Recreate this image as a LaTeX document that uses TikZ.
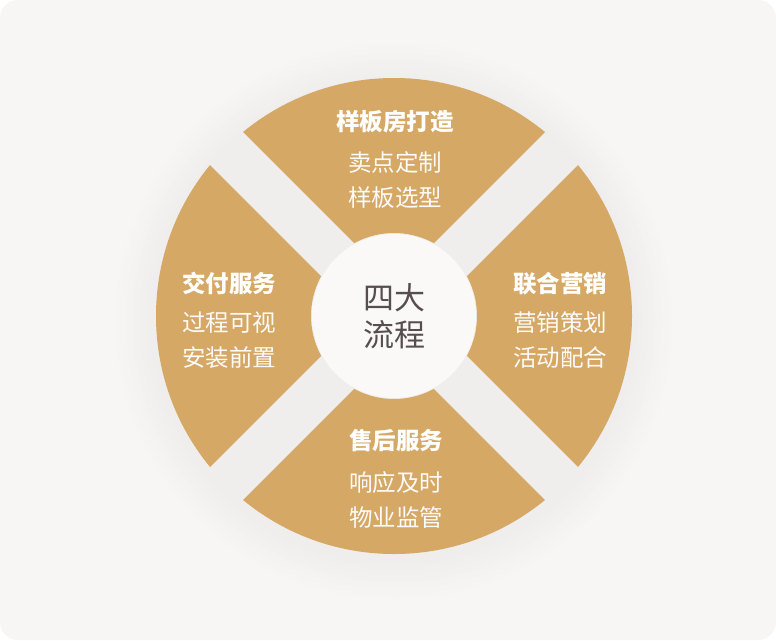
\documentclass[tikz,border=0pt]{standalone}
\usepackage{fontspec}
\setmainfont{Noto Sans CJK SC}
\definecolor{bgc}{HTML}{F7F6F4}
\definecolor{shc}{HTML}{EFEEEC}
\definecolor{tanc}{HTML}{D5A866}
\definecolor{ctext}{HTML}{574E4D}
\definecolor{discin}{HTML}{FAF9F8}
\definecolor{discout}{HTML}{EEEDEB}
\pgfdeclareradialshading{discshade}{\pgfpoint{0bp}{0bp}}{color(0bp)=(discin); color(38bp)=(discin); color(47bp)=(bgc); color(50bp)=(discout)}
\tikzset{
  ttl/.style={text=white, inner sep=0pt, font=\bfseries\fontsize{23.5}{27}\selectfont},
  sub/.style={text=white!96!tanc, inner sep=0pt, align=center, font=\fontsize{23.5}{35}\selectfont},
  ctr/.style={text=ctext, inner sep=0pt, align=center, font=\fontsize{31}{37}\selectfont},
  sector/.style={fill=tanc}
}
\begin{document}
\begin{tikzpicture}[x=1pt,y=-1pt]
\useasboundingbox (0,0) rectangle (776,640);
\fill[white] (0,0) rectangle (776,640);
\fill[bgc, rounded corners=18pt] (0,0) rectangle (776,640);
% soft shadow (solid rings, outside in)
\foreach \i in {0,...,20}{
  \pgfmathtruncatemacro{\pc}{100-5*\i}
  \fill[bgc!\pc!shc] (394,321) circle[radius=282-2*\i];
}
% sectors
\begin{scope}[shift={(394,316)}]
  \foreach \a in {0,90,180,270}{
    \begin{scope}[rotate=\a]
      \clip (0,33) -- (-320,353) -- (320,353) -- cycle;
      \fill[sector, even odd rule] (0,0) circle[radius=238] (0,0) circle[radius=83];
    \end{scope}
  }
\end{scope}
% center disc
\shade[shading=discshade] (394,316) circle[radius=82];
% texts
\node[ctr] (center) at (394,316) {四大\\流程};
\node[ttl] (t1) at (395,122) {样板房打造};
\node[sub] (s1) at (395,180) {卖点定制\\样板选型};
\node[ttl] (t2) at (560,284) {联合营销};
\node[sub] (s2) at (560,340) {营销策划\\活动配合};
\node[ttl] (t3) at (396,441) {售后服务};
\node[sub] (s3) at (396,500) {响应及时\\物业监管};
\node[ttl] (t4) at (229,283) {交付服务};
\node[sub] (s4) at (229,340) {过程可视\\安装前置};
\end{tikzpicture}
\end{document}
